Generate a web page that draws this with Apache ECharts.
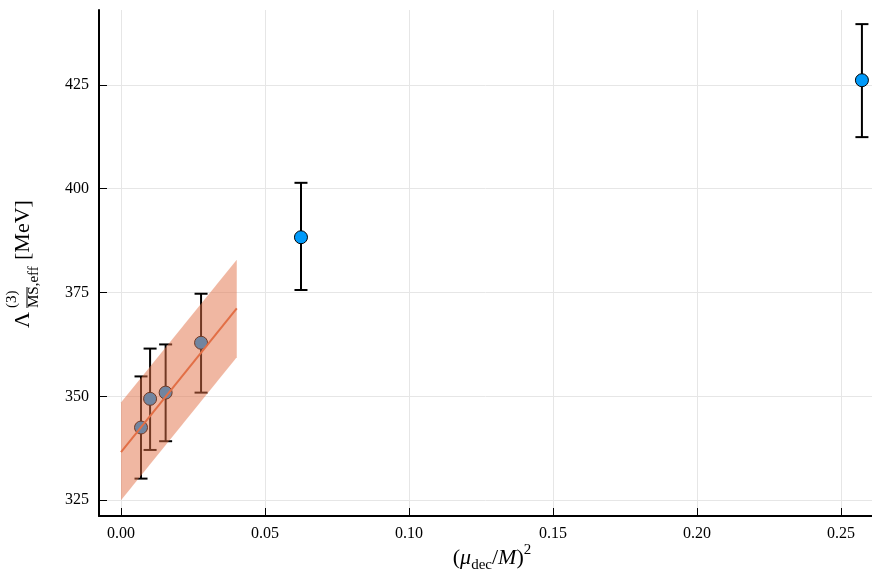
<!DOCTYPE html>
<html>
<head>
<meta charset="utf-8">
<script src="https://cdn.jsdelivr.net/npm/echarts@6/dist/echarts.min.js"></script>
<style>html,body{margin:0;padding:0;background:#fff}#c{width:872px;height:574px}</style>
</head>
<body>
<div id="c"></div>
<script>
// Data points (x = (mu_dec/M)^2, y = Lambda [MeV])
const xVals  = [0.00695, 0.0101, 0.0155, 0.0278, 0.0625, 0.2573];
const yVals  = [342.5, 349.4, 350.9, 362.9, 388.3, 426.1];
const yLow   = [330.2, 337.1, 339.2, 350.9, 375.6, 412.4];
const yHigh  = [354.8, 361.5, 362.5, 374.7, 401.4, 439.6];
// Fit line and band
const fitX    = [0.0, 0.0402];
const fitY    = [336.6, 371.2];
const bandLow = [325.0, 359.4];
const bandHigh= [348.5, 382.9];
// Tick labels
const xTicks = [0, 0.05, 0.10, 0.15, 0.20, 0.25];
const yTicks = [325, 350, 375, 400, 425];

const FONT = 'Liberation Serif';
const chart = echarts.init(document.getElementById('c'), null, {renderer: 'canvas'});

const pts = xVals.map((x, i) => [x, yVals[i], yLow[i], yHigh[i]]);
const fitData = fitX.map((x, i) => [x, fitY[i]]);
const bandData = fitX.map((x, i) => [x, bandLow[i], bandHigh[i]]);

const option = {
  animation: false,
  backgroundColor: '#fff',
  grid: {left: 99, right: 0, top: 10, bottom: 58, containLabel: false},
  xAxis: {
    type: 'value', min: -0.00764, max: 0.2608,
    axisLine: {show: true, onZero: false, lineStyle: {color: '#000', width: 2}},
    axisTick: {show: true, inside: true, length: 8, customValues: xTicks, lineStyle: {color: '#000', width: 1}},
    axisLabel: {
      color: '#000', fontFamily: FONT, fontSize: 16, margin: 10,
      customValues: xTicks,
      formatter: v => v.toFixed(2)
    },
    splitLine: {show: true, lineStyle: {color: '#e6e6e6', width: 1}}
  },
  yAxis: {
    type: 'value', min: 321.2, max: 443.0,
    axisLine: {show: true, onZero: false, lineStyle: {color: '#000', width: 2}},
    axisTick: {show: true, inside: true, length: 8, customValues: yTicks, lineStyle: {color: '#000', width: 1}},
    axisLabel: {
      color: '#000', fontFamily: FONT, fontSize: 16, margin: 10,
      customValues: yTicks,
      formatter: v => String(v)
    },
    splitLine: {show: true, lineStyle: {color: '#e6e6e6', width: 1}}
  },
  series: [
    {
      type: 'custom', z: 2, data: pts,
      renderItem: function (params, api) {
        const x = api.value(0);
        const lo = api.coord([x, api.value(2)]);
        const hi = api.coord([x, api.value(3)]);
        const hw = 6.5;
        const st = {stroke: '#000', lineWidth: 2};
        return {type: 'group', children: [
          {type: 'line', shape: {x1: lo[0], y1: lo[1], x2: hi[0], y2: hi[1]}, style: st},
          {type: 'line', shape: {x1: lo[0]-hw, y1: lo[1], x2: lo[0]+hw, y2: lo[1]}, style: st},
          {type: 'line', shape: {x1: hi[0]-hw, y1: hi[1], x2: hi[0]+hw, y2: hi[1]}, style: st}
        ]};
      }
    },
    {
      type: 'scatter', z: 3, data: pts.map(p => [p[0], p[1]]),
      symbol: 'circle', symbolSize: 13,
      itemStyle: {color: '#009AFA', borderColor: '#000', borderWidth: 1, opacity: 1}
    },
    {
      type: 'custom', z: 4, data: bandData,
      renderItem: function (params, api) {
        if (params.dataIndex !== 0) return;
        const p = [];
        for (let i = 0; i < bandData.length; i++) p.push(api.coord([bandData[i][0], bandData[i][2]]));
        for (let i = bandData.length - 1; i >= 0; i--) p.push(api.coord([bandData[i][0], bandData[i][1]]));
        return {type: 'polygon', shape: {points: p}, style: {fill: 'rgba(226,111,70,0.5)', stroke: null}};
      }
    },
    {
      type: 'line', z: 5, data: fitData, symbol: 'none',
      lineStyle: {color: '#E26F46', width: 2}
    }
  ],
  graphic: [
    {
      type: 'text', x: 492, y: 543, z: 10,
      style: {
        text: '{p|(}{i|μ}{sub|dec}{p|/}{i|M}{p|)}{sup|2}',
        fill: '#000', align: 'center', verticalAlign: 'top',
        rich: {
          p: {fontFamily: FONT, fontSize: 22, lineHeight: 30, verticalAlign: 'middle'},
          i: {fontFamily: FONT, fontSize: 22, fontStyle: 'italic', lineHeight: 30, verticalAlign: 'middle'},
          sub: {fontFamily: FONT, fontSize: 15, lineHeight: 15, verticalAlign: 'bottom'},
          sup: {fontFamily: FONT, fontSize: 15, lineHeight: 15, verticalAlign: 'top'}
        }
      }
    },
    {
      type: 'group', x: 34, y: 328, rotation: Math.PI / 2, z: 10,
      children: [
        {type: 'text', x: 0, y: 0, style: {text: 'Λ', fontSize: 22, fontFamily: FONT, fill: '#000', verticalAlign: 'bottom', align: 'left'}},
        {type: 'text', x: 20, y: -14, style: {text: '(3)', fontSize: 15, fontFamily: FONT, fill: '#000', verticalAlign: 'bottom', align: 'left'}},
        {type: 'text', x: 20, y: 8, style: {text: 'MS,eff', fontSize: 15, fontFamily: FONT, fill: '#000', verticalAlign: 'bottom', align: 'left'}},
        {type: 'line', shape: {x1: 20, y1: -7, x2: 41, y2: -7}, style: {stroke: '#000', lineWidth: 1}},
        {type: 'text', x: 68, y: 0, style: {text: '[MeV]', fontSize: 22, fontFamily: FONT, fill: '#000', verticalAlign: 'bottom', align: 'left'}}
      ]
    }
  ]
};
chart.setOption(option);
</script>
</body>
</html>
